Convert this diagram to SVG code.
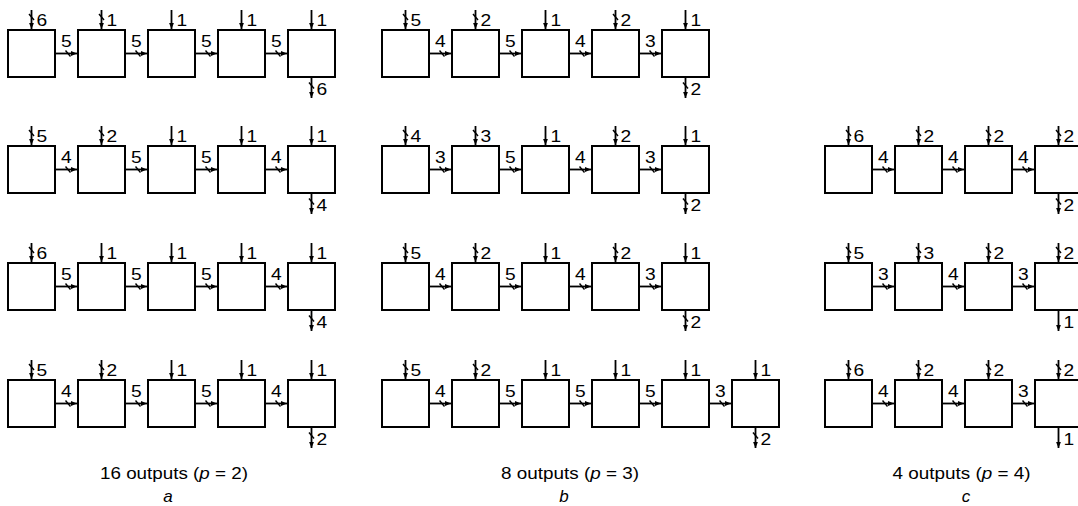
<svg xmlns="http://www.w3.org/2000/svg" xmlns:xlink="http://www.w3.org/1999/xlink" width="1078" height="506" viewBox="0 0 1078 506">
<style>
.box{fill:#fff;stroke:#000;stroke-width:2}
.w{fill:none;stroke:#000;stroke-width:1.8;marker-end:url(#ah)}
.sl{fill:none;stroke:#000;stroke-width:1.4}
.l{font-family:"Liberation Sans",Arial,sans-serif;font-size:16px;fill:#000;transform-box:fill-box;transform-origin:0 0;transform:scaleX(1.2)}
.cap{font-family:"Liberation Sans",Arial,sans-serif;font-size:17px;fill:#000}
.it{font-style:italic}
</style>
<defs>
<marker id="ah" markerUnits="userSpaceOnUse" markerWidth="7" markerHeight="6" refX="6" refY="3" orient="auto"><path d="M0,0.6 L6,3 L0,5.4 z" fill="#000"/></marker>
<path id="vin" class="w" d="M0,-20 V-1"/>
<path id="hc" class="w" d="M0,0 H22"/>
<path id="vo" class="w" d="M0,47 V68"/>
<path id="s" class="sl" d="M-2.5,-3 L2.5,3"/>
</defs>

<!-- nodes: column a -->
<g id="a-r1-n1" transform="translate(8,30)"><rect class="box" width="47" height="47"/></g>
<g id="a-r1-n2" transform="translate(78,30)"><rect class="box" width="47" height="47"/></g>
<g id="a-r1-n3" transform="translate(148,30)"><rect class="box" width="47" height="47"/></g>
<g id="a-r1-n4" transform="translate(218,30)"><rect class="box" width="47" height="47"/></g>
<g id="a-r1-n5" transform="translate(288,30)"><rect class="box" width="47" height="47"/></g>
<g id="a-r2-n1" transform="translate(8,146)"><rect class="box" width="47" height="47"/></g>
<g id="a-r2-n2" transform="translate(78,146)"><rect class="box" width="47" height="47"/></g>
<g id="a-r2-n3" transform="translate(148,146)"><rect class="box" width="47" height="47"/></g>
<g id="a-r2-n4" transform="translate(218,146)"><rect class="box" width="47" height="47"/></g>
<g id="a-r2-n5" transform="translate(288,146)"><rect class="box" width="47" height="47"/></g>
<g id="a-r3-n1" transform="translate(8,263)"><rect class="box" width="47" height="47"/></g>
<g id="a-r3-n2" transform="translate(78,263)"><rect class="box" width="47" height="47"/></g>
<g id="a-r3-n3" transform="translate(148,263)"><rect class="box" width="47" height="47"/></g>
<g id="a-r3-n4" transform="translate(218,263)"><rect class="box" width="47" height="47"/></g>
<g id="a-r3-n5" transform="translate(288,263)"><rect class="box" width="47" height="47"/></g>
<g id="a-r4-n1" transform="translate(8,380)"><rect class="box" width="47" height="47"/></g>
<g id="a-r4-n2" transform="translate(78,380)"><rect class="box" width="47" height="47"/></g>
<g id="a-r4-n3" transform="translate(148,380)"><rect class="box" width="47" height="47"/></g>
<g id="a-r4-n4" transform="translate(218,380)"><rect class="box" width="47" height="47"/></g>
<g id="a-r4-n5" transform="translate(288,380)"><rect class="box" width="47" height="47"/></g>

<!-- nodes: column b -->
<g id="b-r1-n1" transform="translate(382,30)"><rect class="box" width="47" height="47"/></g>
<g id="b-r1-n2" transform="translate(452,30)"><rect class="box" width="47" height="47"/></g>
<g id="b-r1-n3" transform="translate(522,30)"><rect class="box" width="47" height="47"/></g>
<g id="b-r1-n4" transform="translate(592,30)"><rect class="box" width="47" height="47"/></g>
<g id="b-r1-n5" transform="translate(662,30)"><rect class="box" width="47" height="47"/></g>
<g id="b-r2-n1" transform="translate(382,146)"><rect class="box" width="47" height="47"/></g>
<g id="b-r2-n2" transform="translate(452,146)"><rect class="box" width="47" height="47"/></g>
<g id="b-r2-n3" transform="translate(522,146)"><rect class="box" width="47" height="47"/></g>
<g id="b-r2-n4" transform="translate(592,146)"><rect class="box" width="47" height="47"/></g>
<g id="b-r2-n5" transform="translate(662,146)"><rect class="box" width="47" height="47"/></g>
<g id="b-r3-n1" transform="translate(382,263)"><rect class="box" width="47" height="47"/></g>
<g id="b-r3-n2" transform="translate(452,263)"><rect class="box" width="47" height="47"/></g>
<g id="b-r3-n3" transform="translate(522,263)"><rect class="box" width="47" height="47"/></g>
<g id="b-r3-n4" transform="translate(592,263)"><rect class="box" width="47" height="47"/></g>
<g id="b-r3-n5" transform="translate(662,263)"><rect class="box" width="47" height="47"/></g>
<g id="b-r4-n1" transform="translate(382,380)"><rect class="box" width="47" height="47"/></g>
<g id="b-r4-n2" transform="translate(452,380)"><rect class="box" width="47" height="47"/></g>
<g id="b-r4-n3" transform="translate(522,380)"><rect class="box" width="47" height="47"/></g>
<g id="b-r4-n4" transform="translate(592,380)"><rect class="box" width="47" height="47"/></g>
<g id="b-r4-n5" transform="translate(662,380)"><rect class="box" width="47" height="47"/></g>
<g id="b-r4-n6" transform="translate(732,380)"><rect class="box" width="47" height="47"/></g>

<!-- nodes: column c -->
<g id="c-r2-n1" transform="translate(825,146)"><rect class="box" width="47" height="47"/></g>
<g id="c-r2-n2" transform="translate(895,146)"><rect class="box" width="47" height="47"/></g>
<g id="c-r2-n3" transform="translate(965,146)"><rect class="box" width="47" height="47"/></g>
<g id="c-r2-n4" transform="translate(1035,146)"><rect class="box" width="47" height="47"/></g>
<g id="c-r3-n1" transform="translate(825,263)"><rect class="box" width="47" height="47"/></g>
<g id="c-r3-n2" transform="translate(895,263)"><rect class="box" width="47" height="47"/></g>
<g id="c-r3-n3" transform="translate(965,263)"><rect class="box" width="47" height="47"/></g>
<g id="c-r3-n4" transform="translate(1035,263)"><rect class="box" width="47" height="47"/></g>
<g id="c-r4-n1" transform="translate(825,380)"><rect class="box" width="47" height="47"/></g>
<g id="c-r4-n2" transform="translate(895,380)"><rect class="box" width="47" height="47"/></g>
<g id="c-r4-n3" transform="translate(965,380)"><rect class="box" width="47" height="47"/></g>
<g id="c-r4-n4" transform="translate(1035,380)"><rect class="box" width="47" height="47"/></g>

<g id="connectors">
<!-- a row 1 -->
<g transform="translate(0,30)">
<use href="#vin" x="31.5"/><use href="#vin" x="101.5"/><use href="#vin" x="171.5"/><use href="#vin" x="241.5"/><use href="#vin" x="311.5"/>
<use href="#s" x="31.5" y="-13"/><use href="#s" x="101.5" y="-13"/>
<use href="#hc" x="55" y="23.5"/><use href="#hc" x="125" y="23.5"/><use href="#hc" x="195" y="23.5"/><use href="#hc" x="265" y="23.5"/>
<use href="#s" x="68" y="23.5"/><use href="#s" x="138" y="23.5"/><use href="#s" x="208" y="23.5"/><use href="#s" x="278" y="23.5"/>
<use href="#vo" x="311.5"/><use href="#s" x="311.5" y="55.5"/>
<text class="l" x="36.5" y="-4.5">6</text><text class="l" x="106.5" y="-4.5">1</text><text class="l" x="176.5" y="-4.5">1</text><text class="l" x="246.5" y="-4.5">1</text><text class="l" x="316.5" y="-4.5">1</text>
<text class="l" x="61" y="17">5</text><text class="l" x="131" y="17">5</text><text class="l" x="201" y="17">5</text><text class="l" x="271" y="17">5</text>
<text class="l" x="316.5" y="65">6</text>
</g>
<!-- a row 2 -->
<g transform="translate(0,146)">
<use href="#vin" x="31.5"/><use href="#vin" x="101.5"/><use href="#vin" x="171.5"/><use href="#vin" x="241.5"/><use href="#vin" x="311.5"/>
<use href="#s" x="31.5" y="-13"/><use href="#s" x="101.5" y="-13"/>
<use href="#hc" x="55" y="23.5"/><use href="#hc" x="125" y="23.5"/><use href="#hc" x="195" y="23.5"/><use href="#hc" x="265" y="23.5"/>
<use href="#s" x="68" y="23.5"/><use href="#s" x="138" y="23.5"/><use href="#s" x="208" y="23.5"/><use href="#s" x="278" y="23.5"/>
<use href="#vo" x="311.5"/><use href="#s" x="311.5" y="55.5"/>
<text class="l" x="36.5" y="-4.5">5</text><text class="l" x="106.5" y="-4.5">2</text><text class="l" x="176.5" y="-4.5">1</text><text class="l" x="246.5" y="-4.5">1</text><text class="l" x="316.5" y="-4.5">1</text>
<text class="l" x="61" y="17">4</text><text class="l" x="131" y="17">5</text><text class="l" x="201" y="17">5</text><text class="l" x="271" y="17">4</text>
<text class="l" x="316.5" y="65">4</text>
</g>
<!-- a row 3 -->
<g transform="translate(0,263)">
<use href="#vin" x="31.5"/><use href="#vin" x="101.5"/><use href="#vin" x="171.5"/><use href="#vin" x="241.5"/><use href="#vin" x="311.5"/>
<use href="#s" x="31.5" y="-13"/>
<use href="#hc" x="55" y="23.5"/><use href="#hc" x="125" y="23.5"/><use href="#hc" x="195" y="23.5"/><use href="#hc" x="265" y="23.5"/>
<use href="#s" x="68" y="23.5"/><use href="#s" x="138" y="23.5"/><use href="#s" x="208" y="23.5"/><use href="#s" x="278" y="23.5"/>
<use href="#vo" x="311.5"/><use href="#s" x="311.5" y="55.5"/>
<text class="l" x="36.5" y="-4.5">6</text><text class="l" x="106.5" y="-4.5">1</text><text class="l" x="176.5" y="-4.5">1</text><text class="l" x="246.5" y="-4.5">1</text><text class="l" x="316.5" y="-4.5">1</text>
<text class="l" x="61" y="17">5</text><text class="l" x="131" y="17">5</text><text class="l" x="201" y="17">5</text><text class="l" x="271" y="17">4</text>
<text class="l" x="316.5" y="65">4</text>
</g>
<!-- a row 4 -->
<g transform="translate(0,380)">
<use href="#vin" x="31.5"/><use href="#vin" x="101.5"/><use href="#vin" x="171.5"/><use href="#vin" x="241.5"/><use href="#vin" x="311.5"/>
<use href="#s" x="31.5" y="-13"/><use href="#s" x="101.5" y="-13"/>
<use href="#hc" x="55" y="23.5"/><use href="#hc" x="125" y="23.5"/><use href="#hc" x="195" y="23.5"/><use href="#hc" x="265" y="23.5"/>
<use href="#s" x="68" y="23.5"/><use href="#s" x="138" y="23.5"/><use href="#s" x="208" y="23.5"/><use href="#s" x="278" y="23.5"/>
<use href="#vo" x="311.5"/><use href="#s" x="311.5" y="55.5"/>
<text class="l" x="36.5" y="-4.5">5</text><text class="l" x="106.5" y="-4.5">2</text><text class="l" x="176.5" y="-4.5">1</text><text class="l" x="246.5" y="-4.5">1</text><text class="l" x="316.5" y="-4.5">1</text>
<text class="l" x="61" y="17">4</text><text class="l" x="131" y="17">5</text><text class="l" x="201" y="17">5</text><text class="l" x="271" y="17">4</text>
<text class="l" x="316.5" y="65">2</text>
</g>

<!-- b row 1 -->
<g transform="translate(0,30)">
<use href="#vin" x="405.5"/><use href="#vin" x="475.5"/><use href="#vin" x="545.5"/><use href="#vin" x="615.5"/><use href="#vin" x="685.5"/>
<use href="#s" x="405.5" y="-13"/><use href="#s" x="475.5" y="-13"/><use href="#s" x="615.5" y="-13"/>
<use href="#hc" x="429" y="23.5"/><use href="#hc" x="499" y="23.5"/><use href="#hc" x="569" y="23.5"/><use href="#hc" x="639" y="23.5"/>
<use href="#s" x="442" y="23.5"/><use href="#s" x="512" y="23.5"/><use href="#s" x="582" y="23.5"/><use href="#s" x="652" y="23.5"/>
<use href="#vo" x="685.5"/><use href="#s" x="685.5" y="55.5"/>
<text class="l" x="410.5" y="-4.5">5</text><text class="l" x="480.5" y="-4.5">2</text><text class="l" x="550.5" y="-4.5">1</text><text class="l" x="620.5" y="-4.5">2</text><text class="l" x="690.5" y="-4.5">1</text>
<text class="l" x="435" y="17">4</text><text class="l" x="505" y="17">5</text><text class="l" x="575" y="17">4</text><text class="l" x="645" y="17">3</text>
<text class="l" x="690.5" y="65">2</text>
</g>
<!-- b row 2 -->
<g transform="translate(0,146)">
<use href="#vin" x="405.5"/><use href="#vin" x="475.5"/><use href="#vin" x="545.5"/><use href="#vin" x="615.5"/><use href="#vin" x="685.5"/>
<use href="#s" x="405.5" y="-13"/><use href="#s" x="475.5" y="-13"/><use href="#s" x="615.5" y="-13"/>
<use href="#hc" x="429" y="23.5"/><use href="#hc" x="499" y="23.5"/><use href="#hc" x="569" y="23.5"/><use href="#hc" x="639" y="23.5"/>
<use href="#s" x="442" y="23.5"/><use href="#s" x="512" y="23.5"/><use href="#s" x="582" y="23.5"/><use href="#s" x="652" y="23.5"/>
<use href="#vo" x="685.5"/><use href="#s" x="685.5" y="55.5"/>
<text class="l" x="410.5" y="-4.5">4</text><text class="l" x="480.5" y="-4.5">3</text><text class="l" x="550.5" y="-4.5">1</text><text class="l" x="620.5" y="-4.5">2</text><text class="l" x="690.5" y="-4.5">1</text>
<text class="l" x="435" y="17">3</text><text class="l" x="505" y="17">5</text><text class="l" x="575" y="17">4</text><text class="l" x="645" y="17">3</text>
<text class="l" x="690.5" y="65">2</text>
</g>
<!-- b row 3 -->
<g transform="translate(0,263)">
<use href="#vin" x="405.5"/><use href="#vin" x="475.5"/><use href="#vin" x="545.5"/><use href="#vin" x="615.5"/><use href="#vin" x="685.5"/>
<use href="#s" x="405.5" y="-13"/><use href="#s" x="475.5" y="-13"/><use href="#s" x="615.5" y="-13"/>
<use href="#hc" x="429" y="23.5"/><use href="#hc" x="499" y="23.5"/><use href="#hc" x="569" y="23.5"/><use href="#hc" x="639" y="23.5"/>
<use href="#s" x="442" y="23.5"/><use href="#s" x="512" y="23.5"/><use href="#s" x="582" y="23.5"/><use href="#s" x="652" y="23.5"/>
<use href="#vo" x="685.5"/><use href="#s" x="685.5" y="55.5"/>
<text class="l" x="410.5" y="-4.5">5</text><text class="l" x="480.5" y="-4.5">2</text><text class="l" x="550.5" y="-4.5">1</text><text class="l" x="620.5" y="-4.5">2</text><text class="l" x="690.5" y="-4.5">1</text>
<text class="l" x="435" y="17">4</text><text class="l" x="505" y="17">5</text><text class="l" x="575" y="17">4</text><text class="l" x="645" y="17">3</text>
<text class="l" x="690.5" y="65">2</text>
</g>
<!-- b row 4 -->
<g transform="translate(0,380)">
<use href="#vin" x="405.5"/><use href="#vin" x="475.5"/><use href="#vin" x="545.5"/><use href="#vin" x="615.5"/><use href="#vin" x="685.5"/><use href="#vin" x="755.5"/>
<use href="#s" x="405.5" y="-13"/><use href="#s" x="475.5" y="-13"/>
<use href="#hc" x="429" y="23.5"/><use href="#hc" x="499" y="23.5"/><use href="#hc" x="569" y="23.5"/><use href="#hc" x="639" y="23.5"/><use href="#hc" x="709" y="23.5"/>
<use href="#s" x="442" y="23.5"/><use href="#s" x="512" y="23.5"/><use href="#s" x="582" y="23.5"/><use href="#s" x="652" y="23.5"/><use href="#s" x="722" y="23.5"/>
<use href="#vo" x="755.5"/><use href="#s" x="755.5" y="55.5"/>
<text class="l" x="410.5" y="-4.5">5</text><text class="l" x="480.5" y="-4.5">2</text><text class="l" x="550.5" y="-4.5">1</text><text class="l" x="620.5" y="-4.5">1</text><text class="l" x="690.5" y="-4.5">1</text><text class="l" x="760.5" y="-4.5">1</text>
<text class="l" x="435" y="17">4</text><text class="l" x="505" y="17">5</text><text class="l" x="575" y="17">5</text><text class="l" x="645" y="17">5</text><text class="l" x="715" y="17">3</text>
<text class="l" x="760.5" y="65">2</text>
</g>

<!-- c row 2 -->
<g transform="translate(0,146)">
<use href="#vin" x="848.5"/><use href="#vin" x="918.5"/><use href="#vin" x="988.5"/><use href="#vin" x="1058.5"/>
<use href="#s" x="848.5" y="-13"/><use href="#s" x="918.5" y="-13"/><use href="#s" x="988.5" y="-13"/><use href="#s" x="1058.5" y="-13"/>
<use href="#hc" x="872" y="23.5"/><use href="#hc" x="942" y="23.5"/><use href="#hc" x="1012" y="23.5"/>
<use href="#s" x="885" y="23.5"/><use href="#s" x="955" y="23.5"/><use href="#s" x="1025" y="23.5"/>
<use href="#vo" x="1058.5"/><use href="#s" x="1058.5" y="55.5"/>
<text class="l" x="853.5" y="-4.5">6</text><text class="l" x="923.5" y="-4.5">2</text><text class="l" x="993.5" y="-4.5">2</text><text class="l" x="1063.5" y="-4.5">2</text>
<text class="l" x="878" y="17">4</text><text class="l" x="948" y="17">4</text><text class="l" x="1018" y="17">4</text>
<text class="l" x="1063.5" y="65">2</text>
</g>
<!-- c row 3 -->
<g transform="translate(0,263)">
<use href="#vin" x="848.5"/><use href="#vin" x="918.5"/><use href="#vin" x="988.5"/><use href="#vin" x="1058.5"/>
<use href="#s" x="848.5" y="-13"/><use href="#s" x="918.5" y="-13"/><use href="#s" x="988.5" y="-13"/><use href="#s" x="1058.5" y="-13"/>
<use href="#hc" x="872" y="23.5"/><use href="#hc" x="942" y="23.5"/><use href="#hc" x="1012" y="23.5"/>
<use href="#s" x="885" y="23.5"/><use href="#s" x="955" y="23.5"/><use href="#s" x="1025" y="23.5"/>
<use href="#vo" x="1058.5"/>
<text class="l" x="853.5" y="-4.5">5</text><text class="l" x="923.5" y="-4.5">3</text><text class="l" x="993.5" y="-4.5">2</text><text class="l" x="1063.5" y="-4.5">2</text>
<text class="l" x="878" y="17">3</text><text class="l" x="948" y="17">4</text><text class="l" x="1018" y="17">3</text>
<text class="l" x="1063.5" y="65">1</text>
</g>
<!-- c row 4 -->
<g transform="translate(0,380)">
<use href="#vin" x="848.5"/><use href="#vin" x="918.5"/><use href="#vin" x="988.5"/><use href="#vin" x="1058.5"/>
<use href="#s" x="848.5" y="-13"/><use href="#s" x="918.5" y="-13"/><use href="#s" x="988.5" y="-13"/><use href="#s" x="1058.5" y="-13"/>
<use href="#hc" x="872" y="23.5"/><use href="#hc" x="942" y="23.5"/><use href="#hc" x="1012" y="23.5"/>
<use href="#s" x="885" y="23.5"/><use href="#s" x="955" y="23.5"/><use href="#s" x="1025" y="23.5"/>
<use href="#vo" x="1058.5"/>
<text class="l" x="853.5" y="-4.5">6</text><text class="l" x="923.5" y="-4.5">2</text><text class="l" x="993.5" y="-4.5">2</text><text class="l" x="1063.5" y="-4.5">2</text>
<text class="l" x="878" y="17">4</text><text class="l" x="948" y="17">4</text><text class="l" x="1018" y="17">3</text>
<text class="l" x="1063.5" y="65">1</text>
</g>
</g>

<g id="captions">
<text class="cap" x="174" y="479" text-anchor="middle" textLength="148" lengthAdjust="spacingAndGlyphs">16 outputs (<tspan class="it">p</tspan> = 2)</text>
<text class="cap it" x="168" y="502" text-anchor="middle">a</text>
<text class="cap" x="570" y="479" text-anchor="middle" textLength="138" lengthAdjust="spacingAndGlyphs">8 outputs (<tspan class="it">p</tspan> = 3)</text>
<text class="cap it" x="564" y="502" text-anchor="middle">b</text>
<text class="cap" x="961.5" y="479" text-anchor="middle" textLength="138" lengthAdjust="spacingAndGlyphs">4 outputs (<tspan class="it">p</tspan> = 4)</text>
<text class="cap it" x="966" y="502" text-anchor="middle">c</text>
</g>
</svg>
